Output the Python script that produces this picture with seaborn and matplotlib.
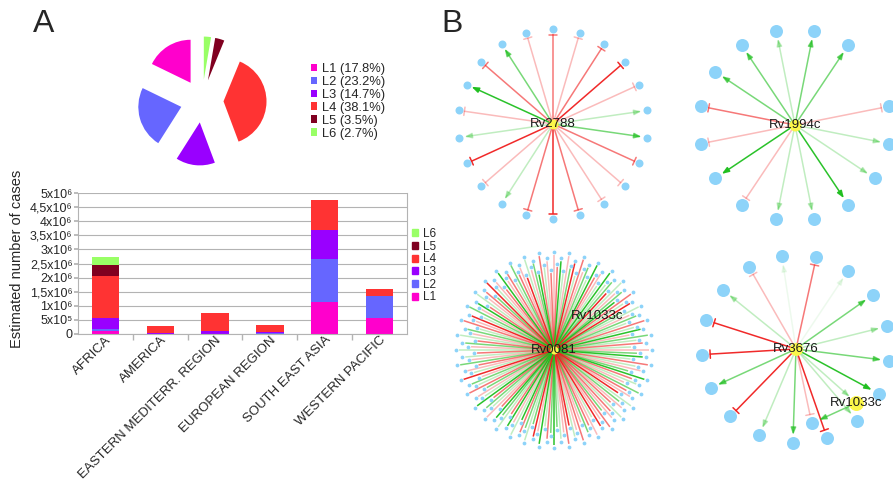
import numpy as np
import matplotlib
matplotlib.use("Agg")
import matplotlib.pyplot as plt
import matplotlib.transforms as mtransforms
import seaborn as sns
from matplotlib.patches import Patch
from matplotlib.collections import LineCollection
from matplotlib.colors import to_rgba

sns.set_theme(style="white")
plt.rcParams["font.family"] = ["Liberation Sans", "DejaVu Sans"]

W, H, DPI = 893, 479, 100

# ---------------- data ----------------
lineages = ["L1", "L2", "L3", "L4", "L5", "L6"]
lineage_colors = ["#ff00cc", "#6666ff", "#9900ff", "#ff3333", "#800020", "#99ff66"]
global_share = [17.8, 23.2, 14.7, 38.1, 3.5, 2.7]

regions = ["AFRICA", "AMERICA", "EASTERN MEDITERR. REGION",
           "EUROPEAN REGION", "SOUTH EAST ASIA", "WESTERN PACIFIC"]
cases_L1 = [0.11e6, 0.00e6, 0.00e6, 0.00e6, 1.15e6, 0.56e6]
cases_L2 = [0.08e6, 0.01e6, 0.01e6, 0.04e6, 1.52e6, 0.77e6]
cases_L3 = [0.36e6, 0.01e6, 0.10e6, 0.02e6, 1.03e6, 0.00e6]
cases_L4 = [1.51e6, 0.26e6, 0.64e6, 0.27e6, 1.04e6, 0.27e6]
cases_L5 = [0.38e6, 0.00e6, 0.00e6, 0.00e6, 0.00e6, 0.00e6]
cases_L6 = [0.29e6, 0.00e6, 0.00e6, 0.00e6, 0.00e6, 0.00e6]

ytick_values = [0, 0.5e6, 1e6, 1.5e6, 2e6, 2.5e6, 3e6, 3.5e6, 4e6, 4.5e6, 5e6]
ytick_labels = ["0", "5x10⁵", "1x10⁶", "1,5x10⁶", "2x10⁶", "2,5x10⁶",
                "3x10⁶", "3,5x10⁶", "4x10⁶", "4,5x10⁶", "5x10⁶"]

# regulatory interactions of each hub, listed clockwise from the first target
# G/g/l/f = activation (strong .. faint), R/r/p = repression (strong .. faint),
# "-" = slot without a drawn target
rv2788_edges = "rprRplgrpprRrlpRlpGrgp"
rv1994c_edges = "gg-pllGllpGprggl"
rv3676_edges = "frfglgGlRglRgRRlp"
rv0081_edges = ("prGlpgRlrpglGrpl" "GlgRlpgGrlRglpgl" "rlGpglrlpgGlrlpg"
                "GrlpgrpRlgprlrpg" "rpRlprgprplRrplg" "GgrlGpRglgrGlpGr"
                "lgGrplgrGlpgrlgp" "Rlprgplrlpgrlpgl" "rpRlgpGrlprgRlpr"
                "GprlgrpRlpgGrlpr")

EDGE_STYLE = {
    "G": ("#1fbf1f", 0.95), "g": ("#1fbf1f", 0.6), "l": ("#1fbf1f", 0.28),
    "f": ("#1fbf1f", 0.08),
    "R": ("#f01e1e", 0.95), "r": ("#f01e1e", 0.6), "p": ("#f01e1e", 0.3),
}
NODE_BLUE = "#8dd3f9"
HUB_YELLOW = "#fbf64a"
GRID_GREY = "#b3b3b3"


def fig_rect(left, top, width, height):
    return [left / W, 1 - (top + height) / H, width / W, height / H]


fig = plt.figure(figsize=(W / DPI, H / DPI), dpi=DPI)

# ---------------- panel A: pie ----------------
ax_pie = fig.add_axes(fig_rect(132, 31, 140, 140))
wedges, _ = ax_pie.pie(global_share, colors=lineage_colors, startangle=90,
                       counterclock=True, explode=[0.5] * 6, radius=1,
                       wedgeprops=dict(linewidth=0))
lim = 70 / 43
ax_pie.set_xlim(-lim, lim)
ax_pie.set_ylim(-lim, lim)
ax_pie.set_aspect("equal")
ax_pie.axis("off")

fig.legend(wedges, [f"{l} ({p}%)" for l, p in zip(lineages, global_share)],
           loc="upper left", bbox_to_anchor=(311 / W, 1 - 63 / H),
           frameon=False, fontsize=9.3, handlelength=0.5, handleheight=0.5,
           handletextpad=0.35, labelspacing=0.07, borderpad=0,
           borderaxespad=0)

# ---------------- panel A: stacked bars ----------------
ax_bar = fig.add_axes(fig_rect(78, 193, 329, 141))
stack = np.array([cases_L1, cases_L2, cases_L3, cases_L4, cases_L5, cases_L6])
cum = np.cumsum(stack, axis=0)
for k in range(len(lineages) - 1, -1, -1):
    sns.barplot(x=regions, y=cum[k], color=lineage_colors[k], width=0.5,
                saturation=1, linewidth=0, errorbar=None, ax=ax_bar, zorder=2)

ax_bar.set_xlim(-0.5, len(regions) - 0.5)
ax_bar.set_ylim(0, 5e6)
ax_bar.set_yticks(ytick_values)
ax_bar.set_yticklabels(ytick_labels, fontsize=9)
ax_bar.set_xticks(range(len(regions)))
ax_bar.set_xticklabels(regions, rotation=45, ha="right", va="top",
                       rotation_mode="anchor", fontsize=9.5)
shift = mtransforms.ScaledTranslation(6 / DPI, 2 / DPI, fig.dpi_scale_trans)
for lab in ax_bar.get_xticklabels():
    lab.set_transform(lab.get_transform() + shift)
ax_bar.set_xticks(np.arange(0.5, len(regions) - 1, 1.0), minor=True)
ax_bar.tick_params(axis="x", which="major", length=0, pad=0)
ax_bar.tick_params(axis="x", which="minor", length=4, color=GRID_GREY,
                   direction="out", bottom=True)
ax_bar.tick_params(axis="y", length=3, color=GRID_GREY, direction="out",
                   pad=1, left=True)
ax_bar.yaxis.grid(True, color=GRID_GREY, linewidth=0.8)
ax_bar.set_axisbelow(True)
ax_bar.spines["top"].set_visible(False)
for side in ("left", "right", "bottom"):
    ax_bar.spines[side].set_color(GRID_GREY)
    ax_bar.spines[side].set_linewidth(0.8)
ax_bar.set_xlabel("")
ax_bar.set_ylabel("Estimated number of cases", fontsize=10.5)
ax_bar.yaxis.set_label_coords(-0.164, 0.53)

bar_handles = [Patch(color=c, label=l) for l, c in zip(lineages, lineage_colors)][::-1]
fig.legend(handles=bar_handles, loc="upper left",
           bbox_to_anchor=(412 / W, 1 - 228 / H), frameon=False, fontsize=8.5,
           handlelength=0.55, handleheight=0.55, handletextpad=0.35,
           labelspacing=0.055, borderpad=0, borderaxespad=0)

fig.text(33 / W, 1 - 32 / H, "A", fontsize=23, ha="left", va="baseline")

# ---------------- panel B: regulatory networks ----------------
ax_net = fig.add_axes([440 / W, 0, (W - 440) / W, 1])


def polar(cx, cy, r, deg):
    a = np.deg2rad(deg)
    return cx + r * np.cos(a), cy - r * np.sin(a)


def draw_edge(p0, p1, code, lw=1.1):
    color, alpha = EDGE_STYLE[code]
    if code in "Gglf":
        style = "-|>,head_length=0.35,head_width=0.13"
    else:
        style = "-[,widthB=0.25,lengthB=0"
    ax_net.annotate("", xy=p1, xytext=p0, zorder=1,
                    arrowprops=dict(arrowstyle=style, color=color, alpha=alpha,
                                    lw=lw, shrinkA=0, shrinkB=0))


def node_size(radius_px):
    return (2 * radius_px * 72 / DPI) ** 2


def draw_hub(name, cx, cy, codes, ring_r, start_deg, node_r, hub_r):
    step = 360 / len(codes)
    xs, ys = [], []
    for i, code in enumerate(codes):
        if code == "-":
            continue
        ang = start_deg - i * step
        px, py = polar(cx, cy, ring_r, ang)
        xs.append(px)
        ys.append(py)
        draw_edge((cx, cy), polar(cx, cy, ring_r - node_r - 1.5, ang), code)
    sns.scatterplot(x=xs, y=ys, s=node_size(node_r), color=NODE_BLUE,
                    linewidth=0, ax=ax_net, zorder=3)
    sns.scatterplot(x=[cx], y=[cy], s=node_size(hub_r), color=HUB_YELLOW,
                    linewidth=0, ax=ax_net, zorder=4)
    ax_net.text(cx, cy, name, fontsize=9.5, ha="center", va="center",
                color="#1a1a1a", zorder=5)


draw_hub("Rv2788", 553, 124, rv2788_edges, 95, 90, 4, 5)
draw_hub("Rv1994c", 795, 125, rv1994c_edges, 96, 78.75, 6.5, 6)
draw_hub("Rv3676", 796, 349, rv3676_edges, 94, 98.7, 6.5, 6.5)

# Rv3676 also controls Rv1033c, which in turn activates a shared target
c3x, c3y = 796, 349
rv1033c_xy = polar(c3x, c3y, 81, -41.7)
shared_xy = polar(c3x, c3y, 76, -78)
draw_edge((c3x, c3y), polar(c3x, c3y, 72, -41.7), "l")
draw_edge((c3x, c3y), polar(c3x, c3y, 67, -78), "p")
v = np.array(shared_xy) - np.array(rv1033c_xy)
v_end = np.array(shared_xy) - v / np.linalg.norm(v) * 8
draw_edge(rv1033c_xy, tuple(v_end), "g")
sns.scatterplot(x=[shared_xy[0]], y=[shared_xy[1]], s=node_size(6.5),
                color=NODE_BLUE, linewidth=0, ax=ax_net, zorder=3)
sns.scatterplot(x=[rv1033c_xy[0]], y=[rv1033c_xy[1]], s=node_size(7.5),
                color=HUB_YELLOW, linewidth=0, ax=ax_net, zorder=4)
ax_net.text(rv1033c_xy[0], rv1033c_xy[1], "Rv1033c", fontsize=9.5,
            ha="center", va="center", color="#1a1a1a", zorder=5)

# Rv0081: large regulon, targets staggered over four rings
c0x, c0y = 554, 350
ring_radii = [98, 86, 92, 80]
n0 = len(rv0081_edges)
segs, cols, nx, ny = [], [], [], []
for i, code in enumerate(rv0081_edges):
    ang = 90 - i * 360 / n0
    r = ring_radii[i % len(ring_radii)]
    px, py = polar(c0x, c0y, r, ang)
    nx.append(px)
    ny.append(py)
    segs.append([(c0x, c0y), polar(c0x, c0y, r - 3, ang)])
    color, alpha = EDGE_STYLE[code]
    cols.append(to_rgba(color, alpha))
order = np.argsort([c[3] for c in cols], kind="stable")
ax_net.add_collection(LineCollection([segs[j] for j in order],
                                     colors=[cols[j] for j in order],
                                     linewidths=1.1, zorder=1))
sns.scatterplot(x=nx, y=ny, s=node_size(1.9), color=NODE_BLUE, linewidth=0,
                ax=ax_net, zorder=3)
sns.scatterplot(x=[c0x], y=[c0y], s=node_size(4), color=HUB_YELLOW,
                linewidth=0, ax=ax_net, zorder=4)
ax_net.text(c0x, c0y, "Rv0081", fontsize=9.5, ha="center", va="center",
            color="#1a1a1a", zorder=5)
ax_net.text(c0x + 43, c0y - 34, "Rv1033c", fontsize=9.5, ha="center",
            va="center", color="#1a1a1a", zorder=5)

ax_net.set_xlim(440, W)
ax_net.set_ylim(H, 0)
ax_net.axis("off")

fig.text(441 / W, 1 - 32 / H, "B", fontsize=23, ha="left", va="baseline")

fig.savefig("out.png", dpi=DPI)
